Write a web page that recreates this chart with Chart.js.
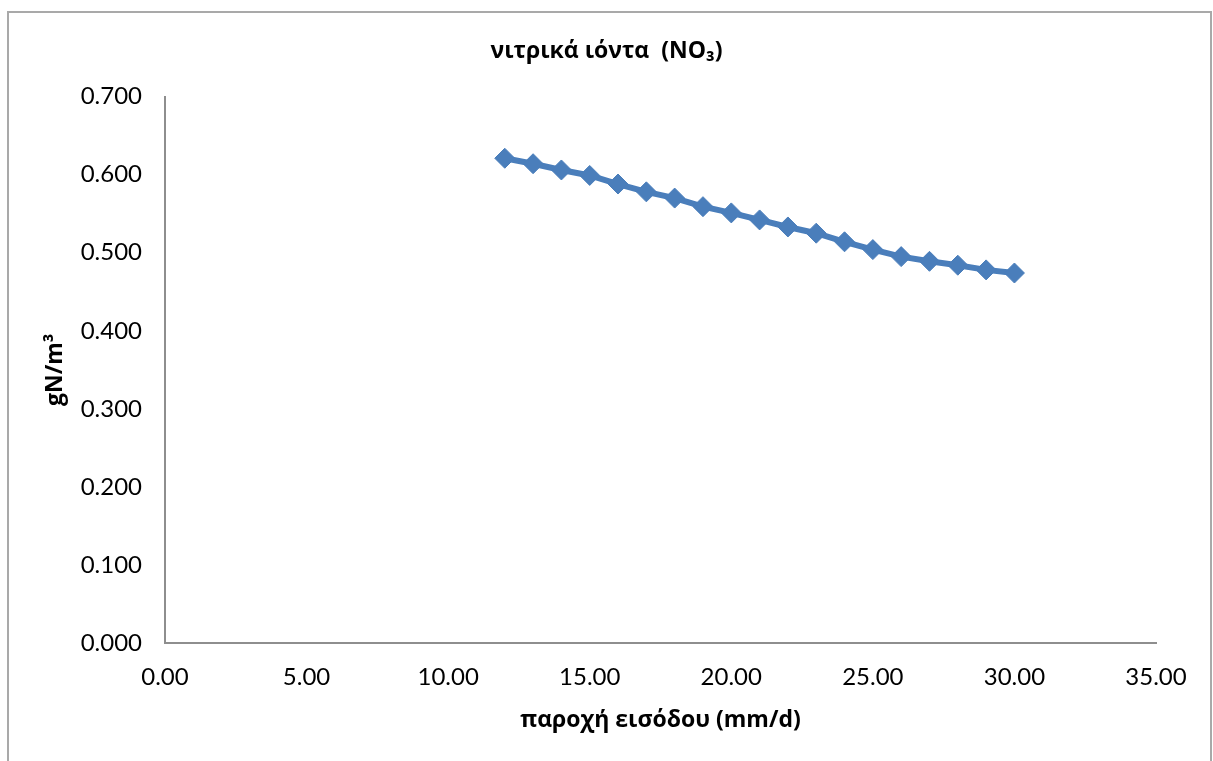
<!DOCTYPE html>
<html>
<head>
<meta charset="utf-8">
<title>νιτρικά ιόντα (NO3)</title>
<script src="https://cdn.jsdelivr.net/npm/chart.js@4/dist/chart.umd.min.js"></script>
<style>
html, body {
    margin: 0;
    padding: 0;
    background: #ffffff;
    overflow: hidden;
}
.wrap {
    position: relative;
    width: 1213px;
    height: 761px;
}
.frame {
    position: absolute;
    left: 7px;
    top: 11px;
    width: 1201px;
    height: 800px;
    border: 2px solid #a9a9a9;
}
#nitrateChart {
    position: absolute;
    left: 0;
    top: 0;
}
</style>
</head>
<body>

<div class="wrap">
    <div class="frame"></div>
    <canvas id="nitrateChart" width="1213" height="761"></canvas>
</div>

<script>

// ------------------------------
// Data
// ------------------------------

const inflow = [12, 13, 14, 15, 16, 17, 18, 19, 20, 21, 22, 23, 24, 25, 26, 27, 28, 29, 30];

const nitrate = [0.621, 0.614, 0.606, 0.599, 0.588, 0.578, 0.570, 0.559, 0.551, 0.542,
                 0.533, 0.525, 0.514, 0.504, 0.495, 0.489, 0.484, 0.478, 0.474];

const xTicks = [0, 5, 10, 15, 20, 25, 30, 35];

const yTicks = [0, 0.1, 0.2, 0.3, 0.4, 0.5, 0.6, 0.7];

const titleText = "νιτρικά ιόντα  (NO₃)";
const xTitle = "παροχή εισόδου (mm/d)";
const yTitle = "gN/m³";

// ------------------------------
// Chart
// ------------------------------

const points = inflow.map((x, i) => ({ x: x, y: nitrate[i] }));

const tickFont = { family: "Lato, 'Open Sans', sans-serif", size: 24 };
const boldFont = { family: "'Open Sans', 'Noto Sans', sans-serif", size: 23, weight: "bold" };

new Chart(document.getElementById("nitrateChart"), {

    type: "scatter",

    data: {
        datasets: [{
            data: points,
            showLine: true,
            borderColor: "#4a7ebb",
            backgroundColor: "#4a7ebb",
            borderWidth: 6,
            pointStyle: "rectRot",
            pointRadius: 10,
            pointHoverRadius: 10,
            pointBorderWidth: 1,
            pointBorderColor: "#4a7ebb",
            tension: 0
        }]
    },

    options: {
        responsive: false,
        animation: false,
        layout: {
            padding: 0
        },
        plugins: {
            legend: { display: false },
            tooltip: { enabled: false },
            title: {
                display: true,
                text: titleText,
                color: "#000",
                font: boldFont,
                padding: { top: 38, bottom: 31 }
            }
        },
        scales: {
            x: {
                type: "linear",
                min: 0,
                max: 35,
                afterBuildTicks: (axis) => {
                    axis.ticks = xTicks.map(v => ({ value: v }));
                },
                afterFit: (axis) => { axis.height = 118; },
                grid: { display: false, drawTicks: false },
                border: { display: true, color: "#8e8e8e", width: 2 },
                ticks: {
                    color: "#000",
                    font: tickFont,
                    padding: 20,
                    maxRotation: 0,
                    callback: (v) => Number(v).toFixed(2)
                },
                title: {
                    display: true,
                    text: xTitle,
                    color: "#000",
                    font: boldFont,
                    padding: { top: 0, bottom: 27 }
                }
            },
            y: {
                type: "linear",
                min: 0,
                max: 0.7,
                afterBuildTicks: (axis) => {
                    axis.ticks = yTicks.map(v => ({ value: v }));
                },
                afterFit: (axis) => { axis.width = 165; },
                grid: { display: false, drawTicks: false },
                border: { display: true, color: "#8e8e8e", width: 2 },
                ticks: {
                    color: "#000",
                    font: tickFont,
                    padding: 23,
                    callback: (v) => Number(v).toFixed(3)
                },
                title: {
                    display: true,
                    text: yTitle,
                    color: "#000",
                    font: boldFont,
                    padding: { top: 42, bottom: 0 }
                }
            },
            // empty right margin so the title stays centred on the page
            spacer: {
                type: "linear",
                position: "right",
                afterFit: (axis) => { axis.width = 57; },
                grid: { display: false, drawTicks: false },
                border: { display: false },
                ticks: { display: false }
            }
        }
    }

});

</script>
</body>
</html>
